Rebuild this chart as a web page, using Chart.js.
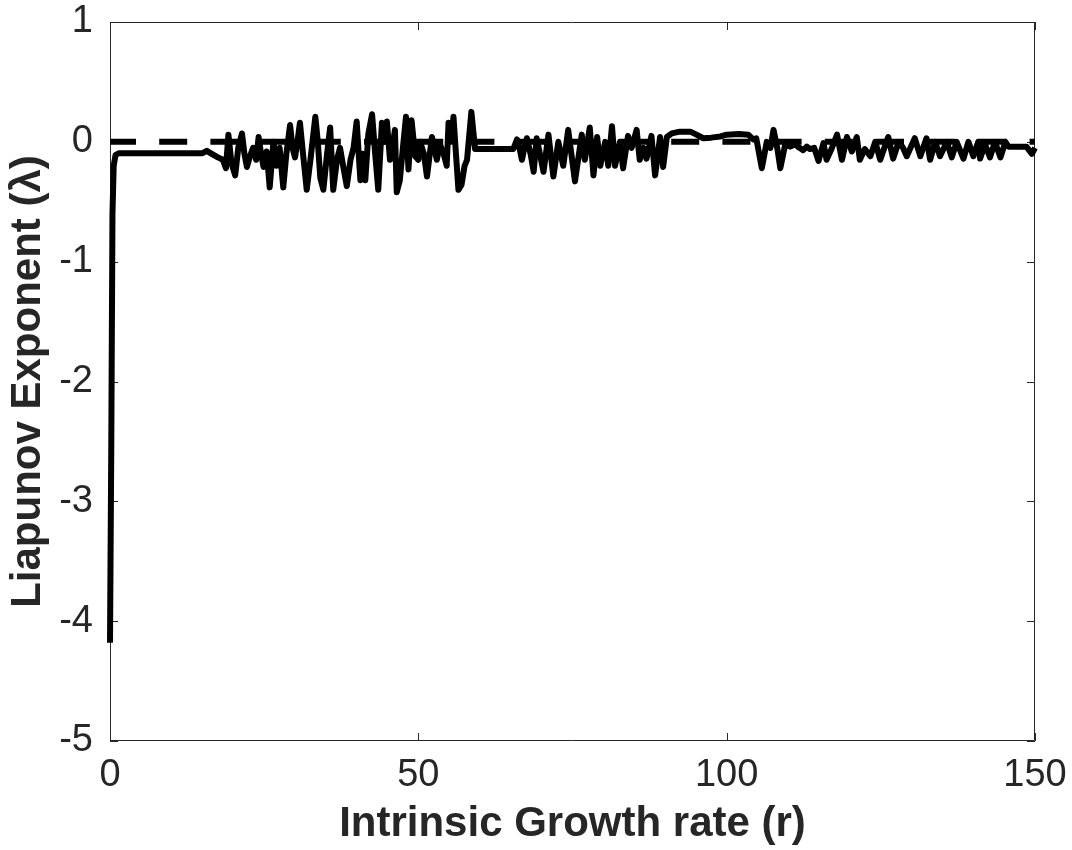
<!DOCTYPE html>
<html>
<head>
<meta charset="utf-8">
<title>Liapunov Exponent vs Intrinsic Growth rate</title>
<script src="https://cdn.jsdelivr.net/npm/chart.js@4.4.1/dist/chart.umd.min.js"></script>
<style>
  html, body { margin: 0; padding: 0; background: #ffffff; }
  #wrap { width: 1072px; height: 850px; }
</style>
</head>
<body>
<div id="wrap"><canvas id="chart" width="1072" height="850"></canvas></div>
<script>
// Intrinsic growth rate r (x) and the Liapunov exponent λ computed at each r (y)
const rValues = [
  0, 0.2, 0.4, 0.6, 0.9, 1.4, 5, 10, 15, 15.7, 16.5, 17.5, 18.3, 18.8, 19.2, 19.7,
  20.3, 20.8, 21.4, 21.8, 22.2, 22.7, 23.2, 23.7, 24.1, 24.5, 24.9, 25.4, 25.9, 26.5,
  27.0, 27.5, 28.1, 28.6, 29.2, 29.6, 30.0, 30.4, 30.8, 31.3, 31.9, 32.5, 33.3, 33.7,
  34.1, 34.6, 35.2, 35.7, 36.2, 36.8, 37.3, 37.8, 38.4, 39.0, 39.5, 40.0, 40.6, 41.0,
  41.4, 41.9, 42.5, 43.0, 43.5, 44.1, 44.5, 44.9, 45.4, 45.8, 46.2, 46.5, 47.0, 47.5,
  48.0, 48.4, 48.9, 49.5, 50.0, 50.3, 50.9, 51.4, 52.2, 52.6, 53.0, 53.5, 54.1, 54.6,
  54.9, 55.3, 55.7, 56.1, 56.5, 57.0, 57.5, 57.9, 58.6, 59.2, 65.4, 66.0, 66.4, 66.8,
  67.2, 67.6, 68.2, 68.7, 69.2, 70.3, 71.1, 71.9, 72.7, 73.5, 74.3, 75.4, 76.5, 77.0,
  77.8, 78.4, 79.0, 79.5, 80.3, 80.8, 81.4, 81.9, 82.7, 83.2, 84.0, 84.6, 85.4, 85.9,
  86.5, 87.0, 87.8, 88.4, 89.2, 89.7, 90.3, 91.1, 92.4, 94.1, 95.1, 96.2, 97.5, 99.0,
  100.0, 102.0, 103.5, 104.3, 104.8, 105.7, 106.5, 107.1, 107.6, 108.2, 108.7, 109.5,
  110.3, 111.1, 111.8, 112.4, 113.0, 113.5, 114.2, 114.9, 115.7, 116.2, 117.0, 117.9,
  118.7, 119.5, 120.3, 121.1, 121.6, 122.4, 123.3, 124.1, 124.9, 125.7, 126.2, 127.0,
  127.9, 128.6, 129.2, 130.5, 131.4, 132.4, 133.0, 133.8, 134.6, 135.7, 136.5, 137.3,
  138.4, 139.2, 140.0, 140.8, 141.1, 141.9, 142.7, 143.5, 144.4, 145.2, 145.7, 148.6,
  149.5, 150
];
const lambdaValues = [
  -4.18, -2.6, -0.6, -0.2, -0.11, -0.095, -0.095, -0.095, -0.095, -0.075, -0.1, -0.13, -0.15, -0.22, 0.06, -0.18,
  -0.28, -0.05, 0.07, -0.1, -0.21, -0.12, -0.05, -0.15, 0.04, -0.1, -0.21, -0.08, -0.38, 0.0,
  -0.2, -0.05, -0.38, -0.1, 0.14, -0.05, -0.13, 0.0, 0.16, -0.1, -0.4, -0.15, 0.21, 0.0,
  -0.3, -0.4, -0.1, 0.12, -0.4, -0.15, -0.05, -0.2, -0.37, -0.15, -0.05, 0.17, -0.32, -0.1,
  -0.32, 0.07, 0.23, -0.1, -0.4, 0.16, 0.0, 0.17, -0.15, -0.05, 0.1, -0.42, -0.32, -0.05,
  0.21, -0.23, 0.18, -0.12, -0.15, 0.0, -0.1, -0.29, 0.04, -0.05, -0.15, -0.02, -0.1, -0.2,
  0.16, 0.0, 0.21, -0.1, -0.4, -0.36, -0.2, -0.15, 0.25, -0.06, -0.06, 0.02, -0.05, -0.15,
  -0.05, 0.03, -0.1, -0.25, 0.03, -0.25, 0.06, -0.29, 0.0, -0.2, 0.1, -0.33, 0.06, -0.15,
  0.12, -0.28, 0.04, -0.2, 0.0, -0.2, 0.13, -0.2, 0.0, -0.22, 0.05, -0.05, 0.1, -0.15,
  -0.05, -0.14, 0.05, -0.28, 0.04, -0.21, 0.04, 0.07, 0.085, 0.085, 0.06, 0.03, 0.035, 0.045,
  0.06, 0.065, 0.06, 0.02, 0.03, -0.22, 0.0, -0.05, 0.1, -0.05, -0.22, -0.02,
  -0.04, -0.02, -0.05, -0.07, -0.04, -0.06, -0.05, -0.16, -0.01, -0.15, -0.06, 0.06,
  -0.15, 0.04, -0.08, 0.04, -0.15, -0.06, -0.12, 0.0, -0.15, -0.03, 0.04, -0.14,
  0.0, -0.05, -0.12, 0.03, -0.12, 0.03, -0.15, 0.0, -0.12, 0.0, -0.13, 0.0,
  -0.14, 0.0, -0.12, 0.0, -0.14, -0.02, -0.13, 0.0, -0.13, 0.0, -0.04, -0.04,
  -0.1, -0.05
];

// λ = 0 reference (boundary between stable and chaotic behaviour)
const zeroLineR = [0, 150];
const zeroLineLambda = [0, 0];

// Axis ticks
const xTickValues = [0, 50, 100, 150];
const yTickValues = [-5, -4, -3, -2, -1, 0, 1];

const AXIS_COLOR = '#262626';
const FONT_FAMILY = '"Liberation Sans", Helvetica, Arial, sans-serif';

const toPoints = (xs, ys) => xs.map((x, i) => ({ x: x, y: ys[i] }));

// Box around the plot area with inward tick marks on all four sides
const boxFramePlugin = {
  id: 'boxFrame',
  beforeDatasetsDraw(chart) {
    const { ctx, chartArea: a, scales } = chart;
    const len = 8;
    ctx.save();
    ctx.strokeStyle = AXIS_COLOR;
    ctx.lineWidth = 1;
    ctx.beginPath();
    ctx.rect(a.left + 0.5, a.top + 0.5, a.right - a.left - 1, a.bottom - a.top - 1);
    scales.x.ticks.forEach(t => {
      const px = Math.round(scales.x.getPixelForValue(t.value)) + 0.5;
      ctx.moveTo(px, a.bottom); ctx.lineTo(px, a.bottom - len);
      ctx.moveTo(px, a.top); ctx.lineTo(px, a.top + len);
    });
    scales.y.ticks.forEach(t => {
      const py = Math.round(scales.y.getPixelForValue(t.value)) + 0.5;
      ctx.moveTo(a.left, py); ctx.lineTo(a.left + len, py);
      ctx.moveTo(a.right, py); ctx.lineTo(a.right - len, py);
    });
    ctx.stroke();
    ctx.restore();
  }
};

new Chart(document.getElementById('chart'), {
  type: 'scatter',
  data: {
    datasets: [
      {
        label: 'λ = 0',
        data: toPoints(zeroLineR, zeroLineLambda),
        showLine: true,
        borderColor: '#000000',
        borderWidth: 6,
        borderDash: [28, 23.2],
        borderDashOffset: 2,
        borderCapStyle: 'butt',
        pointRadius: 0,
        fill: false,
        clip: 10
      },
      {
        label: 'Liapunov exponent',
        data: toPoints(rValues, lambdaValues),
        showLine: true,
        borderColor: '#000000',
        borderWidth: 6,
        borderJoinStyle: 'round',
        borderCapStyle: 'butt',
        pointRadius: 0,
        tension: 0,
        fill: false,
        clip: 10
      }
    ]
  },
  options: {
    responsive: false,
    animation: false,
    devicePixelRatio: 1,
    layout: { padding: { left: 0, right: 37, top: 22, bottom: 0 } },
    plugins: {
      legend: { display: false },
      tooltip: { enabled: false }
    },
    scales: {
      x: {
        type: 'linear',
        min: 0,
        max: 150,
        afterBuildTicks: s => { s.ticks = xTickValues.map(v => ({ value: v })); },
        afterFit: s => {
          s.height = 109;
          s.paddingLeft = 0; s.paddingRight = 0; s.paddingTop = 0; s.paddingBottom = 0;
        },
        grid: { display: false, drawTicks: false },
        border: { display: false },
        ticks: {
          color: AXIS_COLOR,
          padding: 12,
          maxRotation: 0,
          autoSkip: false,
          font: { family: FONT_FAMILY, size: 38 }
        },
        title: {
          display: true,
          text: 'Intrinsic Growth rate (r)',
          color: AXIS_COLOR,
          padding: { top: 0, bottom: 0 },
          font: { family: FONT_FAMILY, size: 42, weight: 'bold' }
        }
      },
      y: {
        type: 'linear',
        min: -5,
        max: 1,
        afterBuildTicks: s => { s.ticks = yTickValues.map(v => ({ value: v })); },
        afterFit: s => {
          s.width = 110;
          s.paddingLeft = 0; s.paddingRight = 0; s.paddingTop = 0; s.paddingBottom = 0;
        },
        grid: { display: false, drawTicks: false },
        border: { display: false },
        ticks: {
          color: AXIS_COLOR,
          padding: 17,
          autoSkip: false,
          font: { family: FONT_FAMILY, size: 38 }
        },
        title: {
          display: true,
          text: 'Liapunov Exponent (λ)',
          color: AXIS_COLOR,
          padding: { top: 3, bottom: 0 },
          font: { family: FONT_FAMILY, size: 42, weight: 'bold' }
        }
      }
    }
  },
  plugins: [boxFramePlugin]
});
</script>
</body>
</html>
